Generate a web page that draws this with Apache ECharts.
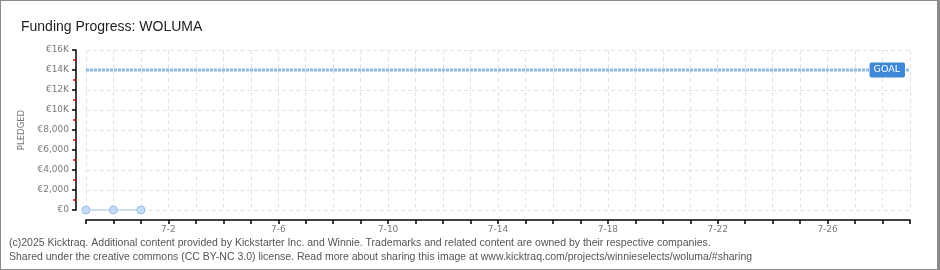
<!DOCTYPE html>
<html>
<head>
<meta charset="utf-8">
<script src="https://cdn.jsdelivr.net/npm/echarts@6/dist/echarts.min.js"></script>
<style>
  html, body { margin: 0; padding: 0; background: #fff; }
  #frame { position: relative; width: 940px; height: 270px; box-sizing: border-box;
           border: 1px solid #8a8a8a; border-right: 3px solid #8a8a8a; background: #fff; overflow: hidden; }
  #chart { position: absolute; left: -1px; top: -1px; width: 940px; height: 270px; }
</style>
</head>
<body>
<div id="frame"><div id="chart"></div></div>
<script>
// Campaign days shown on the x axis (June 29 – July 29)
const days = ['6-29','6-30','7-1','7-2','7-3','7-4','7-5','7-6','7-7','7-8','7-9','7-10',
  '7-11','7-12','7-13','7-14','7-15','7-16','7-17','7-18','7-19','7-20','7-21','7-22',
  '7-23','7-24','7-25','7-26','7-27','7-28','7-29'];
// Pledged amount (EUR) recorded so far
const pledged = [0, 0, 0];
// Funding goal (EUR)
const goal = 14000;
const titleText = 'Funding Progress: WOLUMA';
const footerLines = [
  '(c)2025 Kicktraq. Additional content provided by Kickstarter Inc. and Winnie. Trademarks and related content are owned by their respective companies.',
  'Shared under the creative commons (CC BY-NC 3.0) license. Read more about sharing this image at www.kicktraq.com/projects/winnieselects/woluma/#sharing'
];

const goalLine = days.map(() => goal);

const chart = echarts.init(document.getElementById('chart'), null, { renderer: 'canvas' });
const txt = '#7a7a7a';

chart.setOption({
  animation: false,
  backgroundColor: 'transparent',
  title: {
    text: titleText, left: 16, top: 15,
    textStyle: { fontFamily: 'Liberation Sans', fontSize: 14, fontWeight: 'normal', color: '#1e1e1e' }
  },
  graphic: footerLines.map((t, i) => ({
    type: 'text', left: 9, top: 238 + i * 14,
    style: { text: t, fill: '#555', font: '10.5px "Liberation Sans"' }
  })),
  grid: { left: 86, right: 30, top: 50, bottom: 60 },
  xAxis: {
    type: 'category', data: days, boundaryGap: false, offset: 10,
    axisLine: { onZero: false, lineStyle: { color: '#000', width: 1.5 } },
    axisTick: { show: true, interval: 0, length: 4, lineStyle: { color: '#000', width: 1.5 } },
    axisLabel: {
      interval: (i) => i % 4 === 3, color: txt, fontSize: 9, margin: 5,
      fontFamily: 'DejaVu Sans'
    },
    splitLine: { show: true, interval: 0, lineStyle: { color: '#e2e2e2', type: [4, 3] } }
  },
  yAxis: {
    type: 'value', min: 0, max: 16000, interval: 2000, offset: 10,
    name: 'PLEDGED', nameLocation: 'middle', nameGap: 46, nameRotate: 90,
    nameTextStyle: { color: '#777', fontSize: 8.5, fontFamily: 'DejaVu Sans' },
    axisLine: { show: true, lineStyle: { color: '#000', width: 1.5 } },
    axisTick: { show: true, length: 4, lineStyle: { color: '#000', width: 1.5 } },
    minorTick: { show: true, splitNumber: 2, length: 3, lineStyle: { color: '#e00000', width: 1.5 } },
    axisLabel: {
      color: txt, fontSize: 9, margin: 7, fontFamily: 'DejaVu Sans',
      formatter: (v) => v >= 10000 ? '€' + (v / 1000) + 'K' : '€' + v.toLocaleString('en-US')
    },
    splitLine: { show: true, lineStyle: { color: '#e2e2e2', type: [4, 3] } }
  },
  series: [
    {
      name: 'Goal', type: 'line', data: goalLine, symbol: 'none', silent: true,
      lineStyle: { color: '#8cbbe8', width: 3, type: [3, 1] },
      markPoint: {
        symbol: 'rect', symbolSize: 0,
        data: [{ coord: [days.length - 1, goal] }],
        label: {
          show: true, position: 'left', distance: 5, formatter: 'GOAL',
          color: '#fff', fontSize: 9.5, fontFamily: 'DejaVu Sans',
          backgroundColor: '#3f88d8', borderRadius: 2, padding: [3, 5, 2, 4]
        }
      }
    },
    {
      name: 'Pledged', type: 'line', data: pledged,
      symbol: 'circle', symbolSize: 8,
      itemStyle: { color: '#c6dcf5', borderColor: '#98bce4', borderWidth: 1 },
      lineStyle: { color: '#b9d5f1', width: 1.5 }
    }
  ]
});
</script>
</body>
</html>
